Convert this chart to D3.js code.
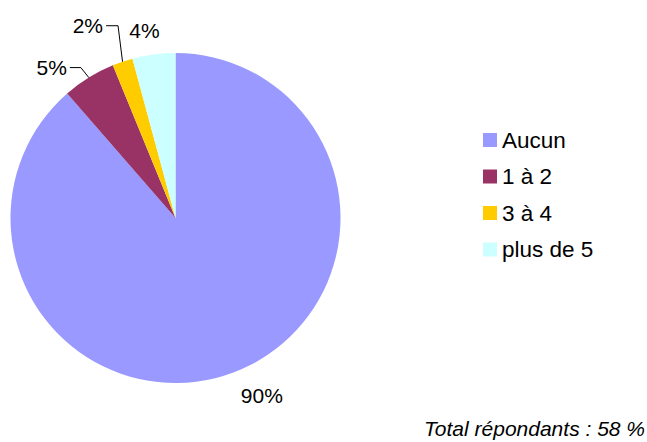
<!DOCTYPE html>
<meta charset="utf-8">
<script src="https://d3js.org/d3.v7.min.js"></script>
<style>
    body { margin: 0; background: #fff; }
    svg text { font-family: 'Liberation Sans', Arial, sans-serif; font-size: 21px; fill: #000; }
    .legend text { font-size: 22.5px; }
    .leader { fill: none; stroke: #000; stroke-width: 1; }
    .note { font-style: italic; }
</style>
<svg id="chart" width="647" height="442"></svg>
<script>
    const categories = ["Aucun", "1 à 2", "3 à 4", "plus de 5"];
    const shares = [88.6, 5.2, 2.0, 4.2];
    const shareLabels = ["90%", "5%", "2%", "4%"];
    const colors = ["#9999FF", "#993366", "#FFCC00", "#CCFFFF"];
    const totalNote = "Total répondants : 58 %";

    const center = { x: 175.5, y: 218 };
    const radius = 165;
    // where each percent label sits relative to its slice
    const labelLayout = [
        { r: 195, dx: 18, dy: -5 },
        { leader: true, dx: -19, dy: -10, elbow: 11 },
        { leader: true, dx: -16.5, dy: -36, elbow: 12 },
        { r: 190, dx: -6, dy: 1 }
    ];
    const legendPos = { x: 483, y: 140, step: 36.5, box: 14 };

    const svg = d3.select("#chart");
    const rows = categories.map((c, i) => ({ cat: c, value: shares[i], label: shareLabels[i] }));

    const color = d3.scaleOrdinal().domain(categories).range(colors);
    const pie = d3.pie().sort(null).value(d => d.value);
    const arcs = pie(rows);
    const arc = d3.arc().innerRadius(0).outerRadius(radius);

    const g = svg.append("g").attr("transform", `translate(${center.x},${center.y})`);
    g.selectAll("path.slice")
        .data(arcs)
        .enter()
        .append("path")
        .attr("class", "slice")
        .attr("d", arc)
        .attr("fill", d => color(d.data.cat));

    function polar(a, r) {
        return [Math.sin(a) * r, -Math.cos(a) * r];
    }

    arcs.forEach((d, i) => {
        const lay = labelLayout[i];
        const mid = (d.startAngle + d.endAngle) / 2;
        if (lay.leader) {
            const edge = polar(mid, radius);
            const sx = edge[0] + lay.dx, sy = edge[1] + lay.dy;
            g.append("path")
                .attr("class", "leader")
                .attr("d", d3.line()([[sx, sy], [sx + lay.elbow, sy], edge]));
            g.append("text")
                .attr("x", sx - 3)
                .attr("y", sy + 7.5)
                .attr("text-anchor", "end")
                .text(d.data.label);
        } else {
            const p = polar(mid, lay.r);
            g.append("text")
                .attr("x", p[0] + lay.dx)
                .attr("y", p[1] + lay.dy + 7.5)
                .attr("text-anchor", "middle")
                .text(d.data.label);
        }
    });

    // legend
    const legend = svg.append("g").attr("class", "legend");
    const item = legend.selectAll("g")
        .data(categories)
        .enter()
        .append("g")
        .attr("transform", (d, i) => `translate(${legendPos.x},${legendPos.y + i * legendPos.step})`);
    item.append("rect")
        .attr("x", 0)
        .attr("y", -legendPos.box / 2)
        .attr("width", legendPos.box)
        .attr("height", legendPos.box)
        .attr("fill", d => color(d));
    item.append("text")
        .attr("x", 19)
        .attr("y", 7.5)
        .text(d => d);

    svg.append("text")
        .attr("class", "note")
        .attr("x", 645)
        .attr("y", 436)
        .attr("text-anchor", "end")
        .text(totalNote);
</script>
